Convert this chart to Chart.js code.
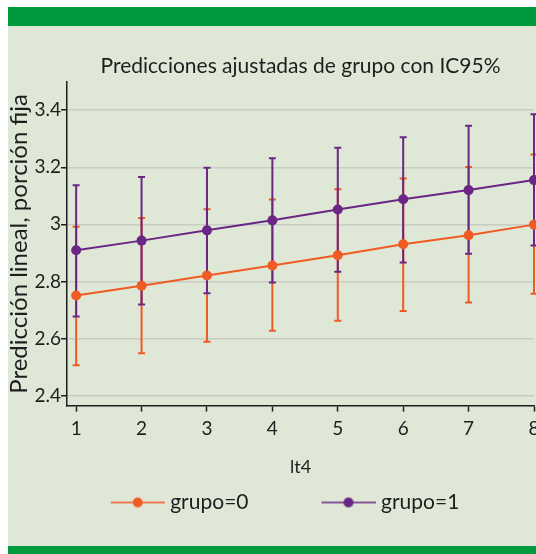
<!DOCTYPE html>
<html>
<head>
<meta charset="utf-8">
<script src="https://cdn.jsdelivr.net/npm/chart.js@4.4.1/dist/chart.umd.min.js"></script>
<style>
  html, body { margin: 0; padding: 0; background: #fff; overflow: hidden; }
  #panel { position: absolute; left: 8px; top: 7px; width: 528px; height: 547px; background: #dfe8d6; overflow: hidden; }
  .band { position: absolute; left: 0; width: 100%; background: #009a3e; }
  #bandTop { top: 0; height: 19px; }
  #bandBottom { top: 539px; height: 8px; }
  #wrap { position: absolute; left: 0; top: 19px; width: 531px; height: 497px; }
</style>
</head>
<body>
<div id="panel">
  <div class="band" id="bandTop"></div>
  <div id="wrap"><canvas id="chart" width="531" height="497"></canvas></div>
  <div class="band" id="bandBottom"></div>
</div>
<script>
const xValues = [1, 2, 3, 4, 5, 6, 7, 8];
const yTicks = [2.4, 2.6, 2.8, 3, 3.2, 3.4];

// grupo=0
const grupo0 = [2.751, 2.785, 2.821, 2.856, 2.892, 2.930, 2.962, 2.999];
const grupo0Low = [2.506, 2.548, 2.589, 2.627, 2.662, 2.696, 2.726, 2.757];
const grupo0High = [2.992, 3.022, 3.053, 3.087, 3.123, 3.161, 3.201, 3.245];

// grupo=1
const grupo1 = [2.909, 2.943, 2.979, 3.014, 3.052, 3.088, 3.120, 3.155];
const grupo1Low = [2.677, 2.719, 2.759, 2.796, 2.834, 2.866, 2.897, 2.926];
const grupo1High = [3.137, 3.166, 3.198, 3.232, 3.268, 3.305, 3.345, 3.386];

const ORANGE = '#f05a23';
const PURPLE = '#6a2585';
const INK = '#1e1e1e';
const FONT = 'Lato';
const LEGEND_BOX = 112;

// little line with a dot, used as legend marker
function legendSymbol(color) {
    const c = document.createElement('canvas');
    c.width = LEGEND_BOX + 10;
    c.height = 12;
    const g = c.getContext('2d');
    const x0 = c.width - 54;
    g.strokeStyle = color;
    g.lineWidth = 1.5;
    g.beginPath();
    g.moveTo(x0, 6);
    g.lineTo(c.width, 6);
    g.stroke();
    g.fillStyle = color;
    g.beginPath();
    g.arc(x0 + 27, 6, 5, 0, Math.PI * 2);
    g.fill();
    return c;
}
const symbols = [legendSymbol(ORANGE), legendSymbol(PURPLE)];

// confidence intervals drawn as capped vertical bars
const errorBars = {
    id: 'errorBars',
    beforeDatasetsDraw(chart, args, opts) {
        const {ctx, scales: {x, y}} = chart;
        chart.data.datasets.forEach(ds => {
            ctx.save();
            ctx.strokeStyle = ds.borderColor;
            ctx.lineWidth = opts.width;
            ds.ciLow.forEach((lo, i) => {
                const px = x.getPixelForValue(xValues[i]);
                const top = y.getPixelForValue(ds.ciHigh[i]);
                const bot = y.getPixelForValue(lo);
                ctx.beginPath();
                ctx.moveTo(px, top);
                ctx.lineTo(px, bot);
                ctx.moveTo(px - opts.cap, top);
                ctx.lineTo(px + opts.cap, top);
                ctx.moveTo(px - opts.cap, bot);
                ctx.lineTo(px + opts.cap, bot);
                ctx.stroke();
            });
            ctx.restore();
        });
    }
};

// move title and legend sideways after layout
const shiftBlocks = {
    id: 'shiftBlocks',
    afterLayout(chart, args, opts) {
        const t = chart.titleBlock;
        const l = chart.legend;
        t.left += opts.title;
        t.right += opts.title;
        l.left += opts.legend;
        l.right += opts.legend;
    }
};

function points(values) {
    return xValues.map((v, i) => ({x: v, y: values[i]}));
}

new Chart(document.getElementById('chart'), {
    type: 'line',
    data: {
        datasets: [
            {
                label: 'grupo=0',
                data: points(grupo0),
                ciLow: grupo0Low,
                ciHigh: grupo0High,
                borderColor: ORANGE,
                backgroundColor: ORANGE,
                borderWidth: 2,
                pointRadius: 5,
                pointBorderWidth: 0,
                clip: false
            },
            {
                label: 'grupo=1',
                data: points(grupo1),
                ciLow: grupo1Low,
                ciHigh: grupo1High,
                borderColor: PURPLE,
                backgroundColor: PURPLE,
                borderWidth: 2,
                pointRadius: 5,
                pointBorderWidth: 0,
                clip: false
            }
        ]
    },
    options: {
        responsive: false,
        animation: false,
        events: [],
        layout: {padding: 0},
        scales: {
            x: {
                type: 'linear',
                min: 0.86,
                max: 8,
                afterBuildTicks: s => { s.ticks = xValues.map(v => ({value: v})); },
                afterFit: s => { s.paddingLeft = 0; s.paddingRight = 0; },
                grid: {drawOnChartArea: false, tickLength: 6, tickColor: INK, tickWidth: 1.5},
                border: {color: INK, width: 1.5},
                ticks: {
                    color: INK,
                    font: {family: FONT, size: 19},
                    padding: 6,
                    maxRotation: 0,
                    autoSkip: false,
                    callback: v => String(v)
                },
                title: {
                    display: true,
                    text: 'lt4',
                    color: INK,
                    font: {family: FONT, size: 18},
                    padding: {top: 10, bottom: 4}
                }
            },
            y: {
                min: 2.365,
                max: 3.498,
                afterBuildTicks: s => { s.ticks = yTicks.map(v => ({value: v})); },
                afterFit: s => { s.width = 59; },
                grid: {color: '#c8ccc4', lineWidth: 1.5, tickLength: 6, tickColor: INK, tickWidth: 1.5},
                border: {color: INK, width: 1.5},
                ticks: {
                    color: INK,
                    font: {family: FONT, size: 19},
                    padding: 0,
                    callback: v => String(v)
                },
                title: {
                    display: true,
                    text: 'Predicción lineal, porción fija',
                    color: INK,
                    font: {family: FONT, size: 24},
                    padding: {top: -3, bottom: 0}
                }
            }
        },
        plugins: {
            title: {
                display: true,
                text: 'Predicciones ajustadas de grupo con IC95%',
                color: INK,
                font: {family: FONT, size: 21, weight: 'normal'},
                padding: {top: 28, bottom: 3}
            },
            legend: {
                position: 'bottom',
                labels: {
                    usePointStyle: true,
                    pointStyleWidth: LEGEND_BOX,
                    padding: 10,
                    color: INK,
                    font: {family: FONT, size: 21},
                    generateLabels: chart => Chart.defaults.plugins.legend.labels.generateLabels(chart)
                        .map(item => ({...item, pointStyle: symbols[item.datasetIndex]}))
                }
            },
            tooltip: {enabled: false},
            errorBars: {width: 2, cap: 3.5},
            shiftBlocks: {title: 27, legend: -20}
        }
    },
    plugins: [errorBars, shiftBlocks]
});
</script>
</body>
</html>
